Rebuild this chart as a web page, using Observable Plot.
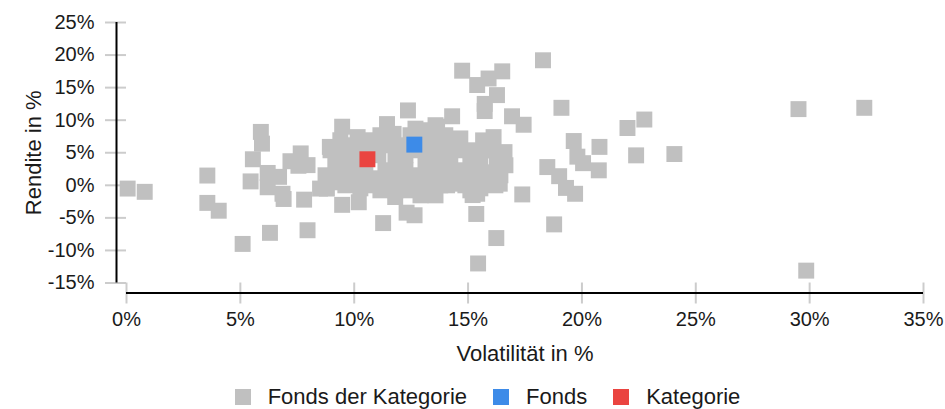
<!DOCTYPE html>
<html>
<head>
<meta charset="utf-8">
<script src="https://cdn.jsdelivr.net/npm/d3@7"></script>
<script src="https://cdn.jsdelivr.net/npm/@observablehq/plot@0.6"></script>
<style>
  html, body { margin: 0; padding: 0; background: #fff; }
  body { width: 945px; height: 409px; overflow: hidden; font-family: "Liberation Sans", Arial, sans-serif; }
  #legend { display: flex; justify-content: center; align-items: center; height: 24px; margin-top: 13px; padding-left: 30px; font-size: 22px; color: #1a1a1a; }
  .item { display: flex; align-items: center; margin-right: 26px; }
  .item:last-child { margin-right: 0; }
  .sw { width: 16px; height: 16px; margin-right: 17px; }
</style>
</head>
<body>
<div id="chart"></div>
<div id="legend"></div>
<script>
// Fonds der Kategorie: volatility (%) and return (%)
const peerVol = [
  0.05, 0.8, 3.55, 3.55, 4.05, 5.1, 5.9, 5.95, 5.55, 5.45, 6.2, 6.2, 6.7, 6.3, 7.2, 7.65, 7.95, 7.55, 6.85, 6.9, 7.8, 7.95, 8.5, 8.8,
  9.47, 10.2, 11.27, 11.8, 12.3, 12.65, 13.35, 14.08,
  9.47, 8.93, 9.54, 9.25, 10.15, 11.44, 12.36, 14.3, 13.64, 11.73, 12.69, 14.66,
  8.96, 9.61, 10.27, 10.8, 9.17, 9.83, 10.49, 11.06, 9.39, 10.05, 10.71, 11.37, 8.96, 9.61,
  11.59, 12.03, 11.81, 12.25, 12.91, 13.35, 13.78, 13.13, 12.69, 13.35, 14.0, 14.44, 12.47, 12.03, 13.78, 14.22, 11.81, 12.91, 13.35,
  15.1, 15.54, 15.98, 16.42, 15.32, 15.98, 16.64, 15.54, 16.2, 14.88, 10.27, 10.93,
  9.39, 10.05, 11.37, 12.47, 12.91, 13.57, 14.0, 14.22, 14.66, 11.59, 11.15, 12.25, 12.69, 13.78, 10.27, 9.61, 8.74, 12.91, 13.57,
  15.1, 15.76, 16.42, 15.76, 15.1, 11.15, 10.49,
  15.4, 15.2, 14.36, 16.39, 15.36, 16.24, 15.44, 17.38, 18.78,
  18.29, 14.74, 16.5, 15.9, 15.4, 16.27, 15.73, 15.73, 16.93, 17.44, 15.66, 16.12, 16.6, 16.27, 15.25, 19.1,
  19.64, 20.77, 19.8, 20.05, 20.74, 18.48, 19.0, 19.3, 19.7, 22.0, 22.74, 22.38, 24.06, 29.51, 32.4, 29.85
];
const peerRet = [
  -0.5, -1.0, 1.5, -2.7, -3.9, -9.0, 8.2, 6.4, 4.0, 0.6, 1.9, -0.3, 1.3, -7.3, 3.7, 4.9, 3.1, 3.0, -1.3, -2.1, -2.2, -6.9, -0.5, -0.5,
  -3.0, -2.6, -5.8, -1.8, -4.2, -4.6, -0.8, 0.0,
  9.0, 5.9, 5.9, 4.35, 7.4, 9.4, 11.5, 10.6, 9.0, 7.9, 8.7, 7.2,
  5.38, 6.15, 6.62, 6.92, 3.08, 3.85, 3.08, 4.62, 1.08, 1.54, 1.08, 2.31, 0.46, 0.0,
  7.69, 6.15, 3.85, 2.31, 8.46, 6.92, 5.38, 3.85, 1.54, 1.54, 3.08, 5.38, -0.77, 0.0, 0.0, 1.54, -0.77, -1.54, 4.62,
  5.38, 3.85, 5.38, 3.85, 1.54, 2.0, 3.08, -0.46, 0.0, 0.0, -0.46, 0.0,
  6.92, 5.38, 6.15, 7.69, 5.38, 9.23, 7.69, 3.85, 2.31, 1.54, -0.77, 4.62, 6.15, 2.31, 2.31, 2.31, 1.54, 0.0, -1.54,
  3.08, 1.54, 1.54, 5.38, -0.77, 7.69, 5.38,
  -1.3, -1.5, 0.25, 0.25, -4.4, -8.1, -12.0, -1.4, -6.0,
  19.2, 17.6, 17.5, 16.4, 15.4, 13.85, 12.5, 11.4, 10.6, 9.3, 6.9, 7.4, 5.1, 3.6, 3.85, 11.9,
  6.8, 5.9, 4.4, 3.4, 2.3, 2.8, 1.4, -0.4, -1.3, 8.8, 10.1, 4.6, 4.8, 11.7, 11.9, -13.1
];
// Fonds
const fundVol = [12.64];
const fundRet = [6.25];
// Kategorie
const catVol = [10.58];
const catRet = [4.0];

const xTicks = [0, 5, 10, 15, 20, 25, 30, 35];
const yTicks = [-15, -10, -5, 0, 5, 10, 15, 20, 25];
const seriesNames = ["Fonds der Kategorie", "Fonds", "Kategorie"];
const seriesColors = ["#c0c0c0", "#3d8be8", "#ea4440"];
const xTitle = "Volatilität in %";
const yTitle = "Rendite in %";

const peers = peerVol.map((v, i) => ({vol: v, ret: peerRet[i]}));
const fund = fundVol.map((v, i) => ({vol: v, ret: fundRet[i]}));
const cat = catVol.map((v, i) => ({vol: v, ret: catRet[i]}));

const pct = d => d + "%";

const chart = Plot.plot({
  width: 945,
  height: 372,
  marginLeft: 126,
  marginRight: 22,
  marginTop: 22,
  marginBottom: 89.5,
  style: {fontFamily: "'Liberation Sans', Arial, sans-serif", background: "#fff", color: "#1a1a1a", overflow: "visible"},
  x: {domain: [0, 35]},
  y: {domain: [-15, 25]},
  marks: [
    Plot.axisX({ticks: xTicks, tickFormat: pct, tickSize: 21, tickPadding: 8, stroke: "#cccccc", strokeWidth: 2, fill: "#1a1a1a", fontSize: 20, label: null}),
    Plot.axisY({ticks: yTicks, tickFormat: pct, tickSize: 21, tickPadding: 11, stroke: "#cccccc", strokeWidth: 2, fill: "#1a1a1a", fontSize: 20, label: null}),
    Plot.ruleX([0], {y1: () => -15, y2: () => 25, dx: -10, stroke: "#000", strokeWidth: 2}),
    Plot.ruleY([-15], {x1: () => 0, x2: () => 35, dy: 10, stroke: "#000", strokeWidth: 2}),
    Plot.text([xTitle], {frameAnchor: "bottom", textAnchor: "middle", dy: 78, fontSize: 22, fill: "#1a1a1a"}),
    Plot.text([yTitle], {frameAnchor: "left", textAnchor: "middle", rotate: -90, dx: -93, fontSize: 22, fill: "#1a1a1a"}),
    Plot.dot(peers, {x: "vol", y: "ret", symbol: "square", r: 9, fill: seriesColors[0], stroke: null}),
    Plot.dot(fund, {x: "vol", y: "ret", symbol: "square", r: 9, fill: seriesColors[1], stroke: null}),
    Plot.dot(cat, {x: "vol", y: "ret", symbol: "square", r: 9, fill: seriesColors[2], stroke: null})
  ]
});
document.getElementById("chart").appendChild(chart);

const legend = document.getElementById("legend");
seriesNames.forEach((name, i) => {
  const item = document.createElement("div");
  item.className = "item";
  const sw = document.createElement("span");
  sw.className = "sw";
  sw.style.background = seriesColors[i];
  const label = document.createElement("span");
  label.textContent = name;
  item.appendChild(sw);
  item.appendChild(label);
  legend.appendChild(item);
});
</script>
</body>
</html>
